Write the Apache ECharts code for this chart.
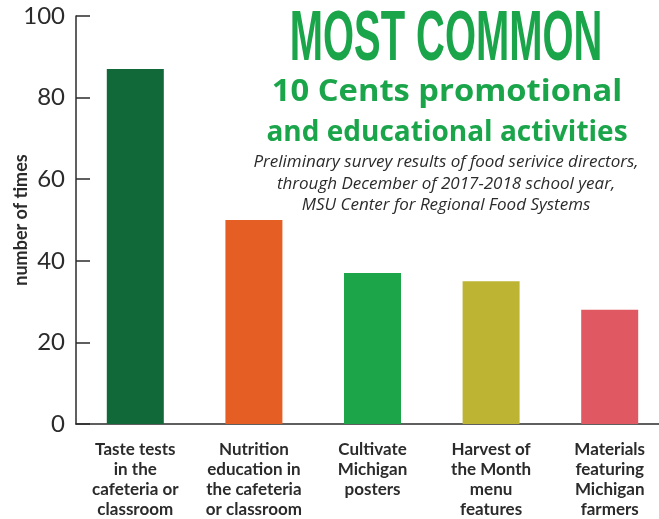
<!DOCTYPE html>
<html>
<head>
<meta charset="utf-8">
<script src="https://cdn.jsdelivr.net/npm/echarts@6/dist/echarts.min.js"></script>
<style>
  html, body { margin: 0; padding: 0; background: #fff; }
  #chart { width: 659px; height: 519px; }
</style>
</head>
<body>
<div id="chart"></div>
<script>
// data
var categories = [
  'Taste tests\nin the\ncafeteria or\nclassroom',
  'Nutrition\neducation in\nthe cafeteria\nor classroom',
  'Cultivate\nMichigan\nposters',
  'Harvest of\nthe Month\nmenu\nfeatures',
  'Materials\nfeaturing\nMichigan\nfarmers'
];
var counts = [87, 50, 37, 35, 28];
var barColors = ['#116838', '#E55F25', '#1DA549', '#BCB432', '#E05962'];
var titleText = 'MOST COMMON';
var subtitleLines = ['10 Cents promotional', 'and educational activities'];
var noteLines = [
  'Preliminary survey results of food serivice directors,',
  'through December of 2017-2018 school year,',
  'MSU Center for Regional Food Systems'
];

var chart = echarts.init(document.getElementById('chart'));
var green = '#1BA54B';
var ink = '#2b2b2b';

var option = {
  backgroundColor: '#ffffff',
  animation: false,
  grid: { left: 76, right: -10, top: 16, bottom: 95, outerBoundsMode: 'none' },
  xAxis: {
    type: 'category',
    data: categories,
    axisLine: { show: true, lineStyle: { color: ink, width: 1.5 } },
    axisTick: { show: false },
    axisLabel: {
      color: ink, fontFamily: 'Lato', fontWeight: 'bold',
      fontSize: 17, lineHeight: 20, margin: 16, interval: 0
    }
  },
  yAxis: {
    type: 'value',
    min: 0, max: 100, interval: 20,
    name: 'number of times',
    nameLocation: 'middle',
    nameGap: 46,
    nameRotate: 90,
    nameMoveOverlap: false,
    nameTextStyle: { color: ink, fontFamily: 'Lato', fontWeight: 'bold', fontSize: 18 },
    splitLine: { show: false },
    axisLine: { show: true, lineStyle: { color: ink, width: 1.5 } },
    axisTick: { show: true, inside: true, length: 14, lineStyle: { color: ink, width: 1.5 } },
    axisLabel: { color: ink, fontFamily: 'Lato', fontSize: 24, margin: 11 }
  },
  series: [{
    type: 'bar',
    barWidth: 57,
    data: counts.map(function (v, i) {
      return { value: v, itemStyle: { color: barColors[i] } };
    })
  }],
  graphic: [
    {
      type: 'text', x: 446, y: 41, scaleX: 0.57, z: 10,
      style: {
        text: titleText, fill: green, align: 'center', verticalAlign: 'middle',
        fontFamily: 'Liberation Sans', fontWeight: 'bold', fontSize: 70
      }
    },
    {
      type: 'text', x: 447, y: 92, scaleX: 1.09, z: 10,
      style: {
        text: subtitleLines[0], fill: green, align: 'center', verticalAlign: 'middle',
        fontFamily: 'Open Sans', fontWeight: 'bold', fontSize: 30
      }
    },
    {
      type: 'text', x: 447, y: 133, z: 10,
      style: {
        text: subtitleLines[1], fill: green, align: 'center', verticalAlign: 'middle',
        fontFamily: 'Open Sans', fontWeight: 'bold', fontSize: 28
      }
    },
    {
      type: 'text', x: 446, y: 184, z: 10,
      style: {
        text: noteLines.join('\n'), fill: ink, align: 'center', verticalAlign: 'middle',
        fontFamily: 'Open Sans', fontStyle: 'italic', fontSize: 17, lineHeight: 21.5
      }
    }
  ]
};
chart.setOption(option);
</script>
</body>
</html>
